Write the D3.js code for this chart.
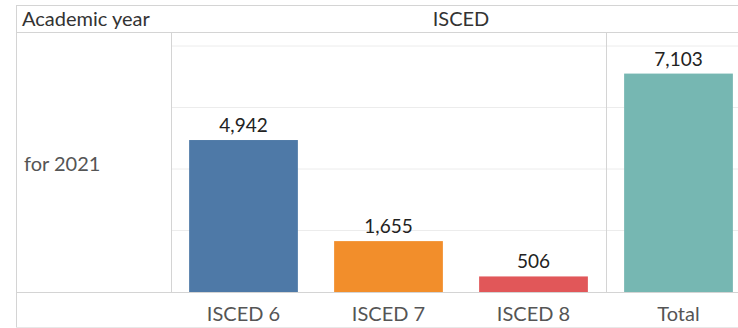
<!DOCTYPE html>
<html><head><meta charset="utf-8">
<script src="https://cdn.jsdelivr.net/npm/d3@7"></script>
<style>body{margin:0;background:#fff}svg{display:block}text{font-family:Lato,"Noto Sans",sans-serif}</style>
</head><body><svg id="c" width="738" height="328"></svg>
<script>
const categories = ["ISCED 6", "ISCED 7", "ISCED 8"];
const values = [4942, 1655, 506];
const totalLabel = "Total";
const totalValue = 7103;
const colors = ["#4e79a7", "#f28e2b", "#e15759"];
const totalColor = "#76b7b2";
const yTicks = [0, 2000, 4000, 6000, 8000];
const rowLabel = "for 2021";
const rowHeader = "Academic year";
const colHeader = "ISCED";

(function () {
const svg = d3.select("#c");
const L = 16, T = 5, headerBottom = 32, panelLeft = 171, sepX = 606, totalRight = 751, baseY = 292, B = 327;
const y = d3.scaleLinear().domain([0, 8000]).range([baseY, 46]);
const x = d3.scaleBand().domain(categories).range([panelLeft, sepX]).paddingInner(0.25).paddingOuter(0.125);
const xt = d3.scaleBand().domain([totalLabel]).range([sepX, totalRight]).paddingInner(0.25).paddingOuter(0.125);
const fmt = d3.format(",");
const line = "#d4d4d4";

// gridlines
svg.append("g").selectAll("line").data(yTicks.slice(1)).join("line")
  .attr("x1", panelLeft).attr("x2", 738).attr("y1", d => y(d)).attr("y2", d => y(d))
  .attr("stroke", "#ececec").attr("stroke-width", 1);

// frame
const fl = [[L, T, 738, T], [L, headerBottom, 738, headerBottom], [L, T, L, B],
  [panelLeft, headerBottom, panelLeft, baseY], [sepX, headerBottom, sepX, baseY], [L, baseY, 738, baseY], [L, B, 738, B]];
svg.append("g").selectAll("line").data(fl).join("line")
  .attr("x1", d => d[0]).attr("y1", d => d[1]).attr("x2", d => d[2]).attr("y2", d => d[3])
  .attr("stroke", (d, i) => i === 6 ? "#e8e8e8" : line).attr("stroke-width", 1).attr("shape-rendering", "crispEdges");

// bars
svg.append("g").selectAll("rect").data(categories).join("rect")
  .attr("x", d => x(d)).attr("width", x.bandwidth())
  .attr("y", (d, i) => y(values[i])).attr("height", (d, i) => baseY - y(values[i]))
  .attr("fill", (d, i) => colors[i]);
svg.append("rect").attr("x", xt(totalLabel)).attr("width", xt.bandwidth())
  .attr("y", y(totalValue)).attr("height", baseY - y(totalValue)).attr("fill", totalColor);

// value labels
svg.append("g").selectAll("text").data(categories).join("text")
  .attr("x", d => x(d) + x.bandwidth() / 2).attr("y", (d, i) => y(values[i]) - 8)
  .attr("text-anchor", "middle").attr("font-size", 19).attr("fill", "#222")
  .text((d, i) => fmt(values[i]));
svg.append("text").attr("x", xt(totalLabel) + xt.bandwidth() / 2).attr("y", y(totalValue) - 8)
  .attr("text-anchor", "middle").attr("font-size", 19).attr("fill", "#222").text(fmt(totalValue));

// category axis labels
svg.append("g").selectAll("text").data(categories).join("text")
  .attr("x", d => x(d) + x.bandwidth() / 2).attr("y", 321)
  .attr("text-anchor", "middle").attr("font-size", 20).attr("fill", "#555").text(d => d);
svg.append("text").attr("x", xt(totalLabel) + xt.bandwidth() / 2).attr("y", 321)
  .attr("text-anchor", "middle").attr("font-size", 20).attr("fill", "#555").text(totalLabel);

// headers
svg.append("text").attr("x", 22).attr("y", 26).attr("font-size", 20).attr("fill", "#333").text(rowHeader);
svg.append("text").attr("x", (panelLeft + totalRight) / 2).attr("y", 26).attr("text-anchor", "middle")
  .attr("font-size", 20).attr("fill", "#333").text(colHeader);
svg.append("text").attr("x", 24).attr("y", 171).attr("font-size", 20).attr("fill", "#555").text(rowLabel);
})();
</script></body></html>
